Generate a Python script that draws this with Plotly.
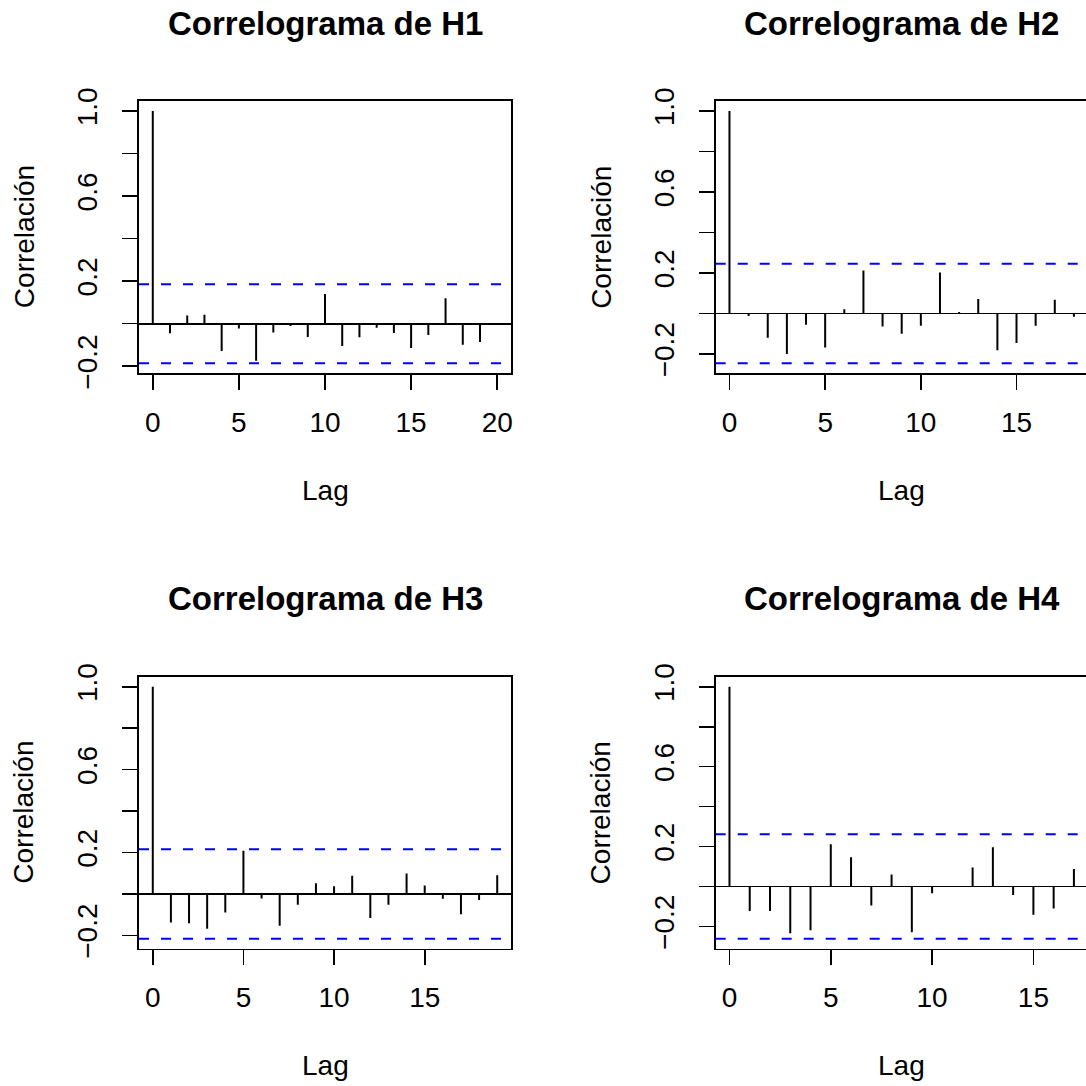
import plotly.graph_objects as go

# ---------------- data ----------------
titles = ["Correlograma de H1", "Correlograma de H2", "Correlograma de H3", "Correlograma de H4"]

acf_h1 = [1.0, -0.045, 0.038, 0.042, -0.128, -0.023, -0.174, -0.041, -0.011, -0.063,
          0.139, -0.105, -0.064, -0.019, -0.044, -0.114, -0.053, 0.120, -0.099, -0.086, -0.005]
acf_h2 = [1.0, -0.013, -0.120, -0.200, -0.056, -0.168, 0.021, 0.212, -0.064, -0.100,
          -0.061, 0.202, 0.007, 0.071, -0.182, -0.146, -0.061, 0.068, -0.016]
acf_h3 = [1.0, -0.138, -0.142, -0.168, -0.090, 0.208, -0.022, -0.154, -0.053, 0.051,
          0.037, 0.088, -0.117, -0.053, 0.098, 0.040, -0.024, -0.098, -0.029, 0.090]
acf_h4 = [1.0, -0.123, -0.123, -0.234, -0.219, 0.211, 0.146, -0.095, 0.060, -0.229,
          -0.034, -0.003, 0.095, 0.196, -0.043, -0.141, -0.110, 0.088]
clims = [0.186, 0.246, 0.216, 0.261]

x_tickvals = [0, 5, 10, 15, 20]
y_tickvals = [-0.2, 0.0, 0.2, 0.4, 0.6, 0.8, 1.0]
y_ticktext = ["\u22120.2", "", "0.2", "", "0.6", "", "1.0"]

x_label = "Lag"
y_label = "Correlación"

series = [acf_h1, acf_h2, acf_h3, acf_h4]

# ---------------- layout geometry ----------------
W = H = 1086
FONT = "Liberation Sans, Arial, sans-serif"
box_x = [(139, 511), (715.7, 1087.7), (139, 511), (715.7, 1087.7)]
box_y = [(101, 373.3), (101, 373.3), (676.7, 948.7), (676.7, 948.7)]

fig = go.Figure()
shapes = []
annotations = []

for i, acf in enumerate(series):
    n = len(acf) - 1
    lags = list(range(n + 1))
    sfx = "" if i == 0 else str(i + 1)
    xa, ya = "x" + sfx, "y" + sfx

    # vertical spikes from 0 to acf
    xs, ys = [], []
    for l, v in zip(lags, acf):
        xs += [l, l, None]
        ys += [0, v, None]
    fig.add_trace(go.Scatter(x=xs, y=ys, mode="lines", xaxis=xa, yaxis=ya,
                             line=dict(color="black", width=2), showlegend=False,
                             hoverinfo="skip"))

    # R-style ranges (4% extension)
    clim = clims[i]
    lo = min(-clim, min(acf))
    hi = max(clim, max(acf))
    pad = 0.04 * (hi - lo)
    yr = [lo - pad, hi + pad]
    xlo, xhi = -0.04 * n, n + 0.04 * n

    bx0, bx1 = box_x[i]
    by0, by1 = box_y[i]
    vis1 = min(bx1, W)
    clipped = bx1 > W
    xhi_vis = xlo + (xhi - xlo) * (vis1 - bx0) / (bx1 - bx0)
    xdom = [bx0 / W, vis1 / W]
    ydom = [1 - by1 / H, 1 - by0 / H]

    axis_common = dict(showline=True, linecolor="black", linewidth=1.6,
                       ticks="outside", ticklen=15, tickwidth=1.6, tickcolor="black",
                       showgrid=False, automargin=False,
                       tickfont=dict(family=FONT, size=28, color="black"))
    fig.update_layout(**{
        ("xaxis" + sfx): dict(domain=xdom, range=[xlo, xhi_vis], anchor=ya,
                              tickvals=[t for t in x_tickvals if t <= n], mirror=True,
                              zeroline=False, ticklabelstandoff=8, **axis_common),
        ("yaxis" + sfx): dict(domain=ydom, range=yr, anchor=xa,
                              tickvals=y_tickvals, ticktext=y_ticktext, tickangle=-90,
                              zeroline=True, zerolinecolor="black", zerolinewidth=1.8,
                              mirror=(not clipped), ticklabelstandoff=14, **axis_common),
    })

    for c in (clim, -clim):
        shapes.append(dict(type="line", xref=xa + " domain", yref=ya, x0=0, x1=1,
                           y0=c, y1=c, line=dict(color="#0000FF", width=2, dash="10px,12px")))

    cx = (bx0 + bx1) / 2 / W
    annotations.append(dict(text="<b>" + titles[i] + "</b>", xref="paper", yref="paper",
                            x=cx, y=1 - (by0 - 78) / H, xanchor="center", yanchor="middle",
                            showarrow=False, font=dict(family=FONT, size=33, color="black")))
    annotations.append(dict(text=x_label, xref="paper", yref="paper",
                            x=cx, y=1 - (by1 + 117) / H, xanchor="center", yanchor="middle",
                            showarrow=False, font=dict(family=FONT, size=28, color="black")))
    annotations.append(dict(text=y_label, xref="paper", yref="paper",
                            x=(bx0 - 115) / W, y=1 - (by0 + by1) / 2 / H,
                            xanchor="center", yanchor="middle", textangle=-90,
                            showarrow=False, font=dict(family=FONT, size=28, color="black")))

fig.update_layout(width=W, height=H, margin=dict(l=0, r=0, t=0, b=0, autoexpand=False),
                  paper_bgcolor="white", plot_bgcolor="white",
                  shapes=shapes, annotations=annotations, showlegend=False)

# remove the browser's default 8px page margin so the figure fills the window exactly
fig.write_html("out.html",
               config={"displayModeBar": False, "staticPlot": True},
               post_script="document.body.style.margin='0';document.body.style.overflow='hidden';")
